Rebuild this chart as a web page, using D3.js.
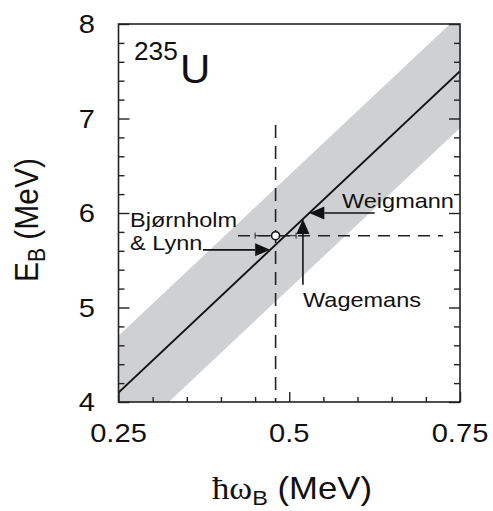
<!DOCTYPE html>
<html><head><meta charset="utf-8">
<script src="https://cdn.jsdelivr.net/npm/d3@7"></script>
<style>body{margin:0;background:#fff}svg{display:block}</style>
</head><body>
<script>
// Axis domains and tick values
const xDomain = [0.25, 0.75];
const yDomain = [4, 8];
const xTickValues = [0.25, 0.5, 0.75];
const xTickLabels = ["0.25", "0.5", "0.75"];
const yTickValues = [4, 5, 6, 7, 8];
const yTickLabels = ["4", "5", "6", "7", "8"];
const xMinorTicks = [0.30, 0.35, 0.40, 0.45, 0.55, 0.60, 0.65, 0.70];
const yMinorTicks = [4.2, 4.4, 4.6, 4.8, 5.2, 5.4, 5.6, 5.8, 6.2, 6.4, 6.6, 6.8, 7.2, 7.4, 7.6, 7.8];

// Systematics line E_B vs hbar*omega_B and its uncertainty band (MeV)
const fitX = [0.25, 0.75];
const fitE = [4.1, 7.5];
const bandHalf = [0.6, 0.6];

// Measured point with its horizontal uncertainty
const pointX = [0.48];
const pointE = [5.76];
const pointXErr = [0.03];

// Dashed guide lines through the point
const guideVX = [0.48], guideVE = [4.0, 6.93];
const guideHE = [5.76], guideHX = [0.425, 0.725];

// Labelled arrows: tail position and the point on the line they mark
const arrowNames = ["Bjørnholm", "Weigmann", "Wagemans"];
const arrowDir = ["h", "h", "v"];
const arrowTailX = [0.3735, 0.625, 0.52];
const arrowTailE = [5.61, 6.0, 5.24];

const W = 493, H = 511;
const svg = d3.select("body").append("svg").attr("width", W).attr("height", H);
const font = "'Liberation Sans', Arial, Helvetica, sans-serif";
const SX = 1.12; // horizontal glyph stretch

const x = d3.scaleLinear().domain(xDomain).range([118.5, 460]);
const y = d3.scaleLinear().domain(yDomain).range([402, 24]);

// line value at a given hbar*omega
const fitAt = v => fitE[0] + (fitE[1] - fitE[0]) * (v - fitX[0]) / (fitX[1] - fitX[0]);
const fitInv = e => fitX[0] + (e - fitE[0]) * (fitX[1] - fitX[0]) / (fitE[1] - fitE[0]);

svg.append("clipPath").attr("id", "plot")
  .append("rect").attr("x", x(xDomain[0])).attr("y", y(yDomain[1]))
  .attr("width", x(xDomain[1]) - x(xDomain[0])).attr("height", y(yDomain[0]) - y(yDomain[1]));

const plot = svg.append("g").attr("clip-path", "url(#plot)");

// uncertainty band
const band = [
  [fitX[0], fitE[0] + bandHalf[0]], [fitX[1], fitE[1] + bandHalf[1]],
  [fitX[1], fitE[1] - bandHalf[1]], [fitX[0], fitE[0] - bandHalf[0]]
];
plot.append("path")
  .attr("d", d3.line().x(d => x(d[0])).y(d => y(d[1]))(band) + "Z")
  .attr("fill", "#cfd0d2");

// dashed guides
plot.append("line")
  .attr("x1", x(guideVX[0])).attr("x2", x(guideVX[0]))
  .attr("y1", y(guideVE[1])).attr("y2", y(guideVE[0]))
  .attr("stroke", "#222").attr("stroke-width", 1.6).attr("stroke-dasharray", "13,8");
plot.append("line")
  .attr("x1", x(guideHX[0])).attr("x2", x(guideHX[1]))
  .attr("y1", y(guideHE[0])).attr("y2", y(guideHE[0]))
  .attr("stroke", "#222").attr("stroke-width", 1.6).attr("stroke-dasharray", "12,8");

// systematics line
plot.append("line")
  .attr("x1", x(fitX[0])).attr("y1", y(fitE[0]))
  .attr("x2", x(fitX[1])).attr("y2", y(fitE[1]))
  .attr("stroke", "#111").attr("stroke-width", 2);

// horizontal error bar of the point
const eb = svg.append("g").attr("stroke", "#222").attr("stroke-width", 1);
eb.append("line").attr("x1", x(pointX[0] - pointXErr[0])).attr("x2", x(pointX[0] + pointXErr[0]))
  .attr("y1", y(pointE[0])).attr("y2", y(pointE[0]));
[-1, 1].forEach(s => eb.append("line")
  .attr("x1", x(pointX[0] + s * pointXErr[0])).attr("x2", x(pointX[0] + s * pointXErr[0]))
  .attr("y1", y(pointE[0]) - 3).attr("y2", y(pointE[0]) + 3));

svg.append("circle").attr("cx", x(pointX[0])).attr("cy", y(pointE[0])).attr("r", 4)
  .attr("fill", "#fff").attr("stroke", "#111").attr("stroke-width", 1.6);

// arrows
arrowNames.forEach((n, i) => {
  let tx, ty, tipX, tipY;
  tx = x(arrowTailX[i]); ty = y(arrowTailE[i]);
  if (arrowDir[i] === "h") { tipX = x(fitInv(arrowTailE[i])); tipY = ty; }
  else { tipX = tx; tipY = y(fitAt(arrowTailX[i])); }
  const dx = tipX - tx, dy = tipY - ty, L = Math.hypot(dx, dy);
  const ux = dx / L, uy = dy / L, len = 15, hw = 6.5;
  const bx = tipX - ux * len, by = tipY - uy * len;
  svg.append("line").attr("x1", tx).attr("y1", ty).attr("x2", bx).attr("y2", by)
    .attr("stroke", "#111").attr("stroke-width", 1.6);
  svg.append("path")
    .attr("d", `M${tipX},${tipY}L${bx - uy * hw},${by + ux * hw}L${bx + uy * hw},${by - ux * hw}Z`)
    .attr("fill", "#111");
});

// frame
svg.append("rect").attr("x", x(xDomain[0])).attr("y", y(yDomain[1]))
  .attr("width", x(xDomain[1]) - x(xDomain[0])).attr("height", y(yDomain[0]) - y(yDomain[1]))
  .attr("fill", "none").attr("stroke", "#222").attr("stroke-width", 1.6);

// inward ticks on left, right and bottom
function ticks(axis, vals, size, tr) {
  const g = svg.append("g").attr("transform", tr)
    .call(axis.tickValues(vals).tickSize(size).tickSizeOuter(0).tickFormat(""));
  g.select(".domain").remove();
  g.selectAll("line").attr("stroke", "#222").attr("stroke-width", 1.4);
}
ticks(d3.axisLeft(y), yTickValues, -11, `translate(${x(xDomain[0])},0)`);
ticks(d3.axisLeft(y), yMinorTicks, -6, `translate(${x(xDomain[0])},0)`);
ticks(d3.axisRight(y), yTickValues, -11, `translate(${x(xDomain[1])},0)`);
ticks(d3.axisRight(y), yMinorTicks, -6, `translate(${x(xDomain[1])},0)`);
ticks(d3.axisBottom(x), xTickValues, -10, `translate(0,${y(yDomain[0])})`);
ticks(d3.axisBottom(x), xMinorTicks, -5, `translate(0,${y(yDomain[0])})`);

// stretched text helper
function text(px, py, size, anchor, rot) {
  return svg.append("text")
    .attr("transform", `translate(${px},${py}) scale(${SX},1)` + (rot ? ` rotate(${rot})` : ""))
    .attr("font-family", font).attr("font-size", size).attr("fill", "#111")
    .attr("text-anchor", anchor);
}

yTickValues.forEach((v, i) => text(95, y(v) + 9, 26, "end").text(yTickLabels[i]));
xTickValues.forEach((v, i) => text(x(v), 442, 26, "middle").text(xTickLabels[i]));

// axis titles
const yt = text(38, 282, 30, "start", -90);
yt.append("tspan").text("E");
yt.append("tspan").attr("font-size", 21).attr("dy", 6).text("B");
yt.append("tspan").attr("dy", -6).text(" (MeV)");

const xt = text(212, 499, 31, "start");
xt.append("tspan").attr("font-family", "'Liberation Serif', 'Times New Roman', serif").text("ħω");
xt.append("tspan").attr("font-size", 21).attr("dy", 6).text("B");
xt.append("tspan").attr("dy", -6).text(" (MeV)");

// nucleus label
svg.append("text").attr("transform", `translate(134,60) scale(1.05,1)`)
  .attr("font-family", font).attr("font-size", 25).attr("fill", "#111").text("235");
svg.append("text").attr("transform", `translate(180,83) scale(1.05,1)`)
  .attr("font-family", font).attr("font-size", 40).attr("fill", "#111").text("U");

// arrow labels
text(130, 227, 21, "start").text(arrowNames[0]);
text(130, 250, 21, "start").text("& Lynn");
text(342, 208, 21, "start").text(arrowNames[1]);
text(303, 307, 21, "start").text(arrowNames[2]);
</script>
</body></html>
